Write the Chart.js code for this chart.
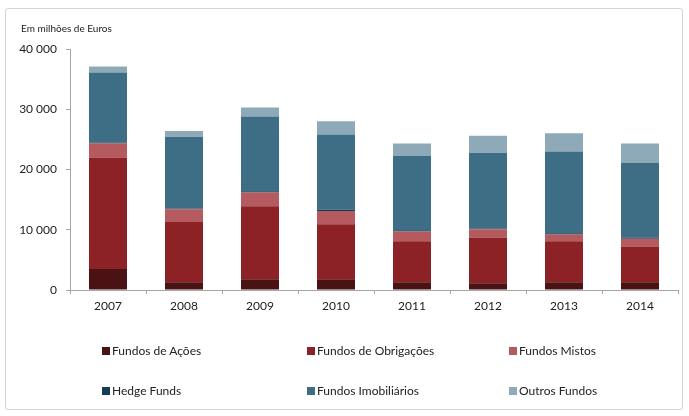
<!DOCTYPE html>
<html>
<head>
<meta charset="utf-8">
<script src="https://cdn.jsdelivr.net/npm/chart.js@4/dist/chart.umd.min.js"></script>
<style>
  html, body { margin: 0; padding: 0; background: #fff; }
  #wrap { position: relative; width: 689px; height: 416px; font-family: Lato, "Open Sans", sans-serif; }
  #frame { position: absolute; left: 5px; top: 8px; width: 678px; height: 402px; border: 1px solid #d4d4d4; border-radius: 3px; box-sizing: border-box; }
  canvas { position: absolute; left: 0; top: 0; }
  #unit { position: absolute; left: 21px; top: 22px; font-size: 10px; color: #222; }
  .lg { position: absolute; font-size: 12px; color: #222; display: flex; align-items: center; white-space: nowrap; }
  .lg span.b { width: 8px; height: 8px; display: inline-block; margin-right: 2px; }
</style>
</head>
<body>
<div id="wrap">
  <div id="frame"></div>
  <canvas id="c" width="689" height="416"></canvas>
  <div id="unit">Em milhões de Euros</div>
  <div id="legend"></div>
</div>
<script>
const years = ["2007", "2008", "2009", "2010", "2011", "2012", "2013", "2014"];
const seriesNames = ["Fundos de Ações", "Fundos de Obrigações", "Fundos Mistos", "Hedge Funds", "Fundos Imobiliários", "Outros Fundos"];
const fundosAcoes      = [3500, 1300, 1800, 1800, 1300, 1100, 1300, 1300];
const fundosObrigacoes = [18500, 10000, 12100, 9100, 6800, 7600, 6800, 5900];
const fundosMistos     = [2300, 2100, 2300, 2200, 1600, 1400, 1100, 1300];
const hedgeFunds       = [200, 100, 200, 200, 200, 100, 200, 200];
const fundosImobiliarios = [11600, 11900, 12400, 12500, 12400, 12600, 13600, 12400];
const outrosFundos     = [1000, 1000, 1500, 2200, 2000, 2800, 3000, 3200];
const yTicks = [0, 10000, 20000, 30000, 40000];
const colors = ["#4b1214", "#8c2126", "#b55a5e", "#123f57", "#3e6e85", "#8eaab8"];

const seriesValues = [fundosAcoes, fundosObrigacoes, fundosMistos, hedgeFunds, fundosImobiliarios, outrosFundos];

const fmt = v => String(v).replace(/\B(?=(\d{3})+(?!\d))/g, " ");

new Chart(document.getElementById("c"), {
  type: "bar",
  data: {
    labels: years,
    datasets: seriesNames.map((n, i) => ({
      label: n,
      data: seriesValues[i],
      backgroundColor: colors[i],
      borderWidth: 0,
      barPercentage: 0.5,
      categoryPercentage: 1.0
    }))
  },
  options: {
    responsive: false,
    animation: false,
    devicePixelRatio: 1,
    layout: { padding: { left: 8, right: 11, top: 49, bottom: 100 } },
    plugins: { legend: { display: false }, tooltip: { enabled: false }, title: { display: false } },
    scales: {
      x: {
        stacked: true,
        afterFit: s => { s.height = 26; },
        grid: { drawOnChartArea: false, drawTicks: true, tickLength: 4, color: "#a6a6a6", offset: true },
        border: { color: "#a6a6a6" },
        ticks: { color: "#222", font: { family: "Lato", size: 12 }, padding: 5 }
      },
      y: {
        stacked: true,
        min: 0, max: 40000,
        afterFit: s => { s.width = 62; },
        afterBuildTicks: s => { s.ticks = yTicks.map(v => ({ value: v })); },
        grid: { drawOnChartArea: false, drawTicks: true, tickLength: 4, color: "#a6a6a6" },
        border: { color: "#a6a6a6" },
        ticks: { color: "#222", font: { family: "Lato", size: 12 }, padding: 9, callback: v => fmt(v) }
      }
    }
  }
});

const legend = document.getElementById("legend");
const colX = [102, 307, 509];
const rowY = [351, 391];
seriesNames.forEach((n, i) => {
  const d = document.createElement("div");
  d.className = "lg";
  d.style.left = colX[i % 3] + "px";
  d.style.top = (rowY[Math.floor(i / 3)] - 8) + "px";
  d.innerHTML = '<span class="b" style="background:' + colors[i] + '"></span>' + n;
  legend.appendChild(d);
});
</script>
</body>
</html>
